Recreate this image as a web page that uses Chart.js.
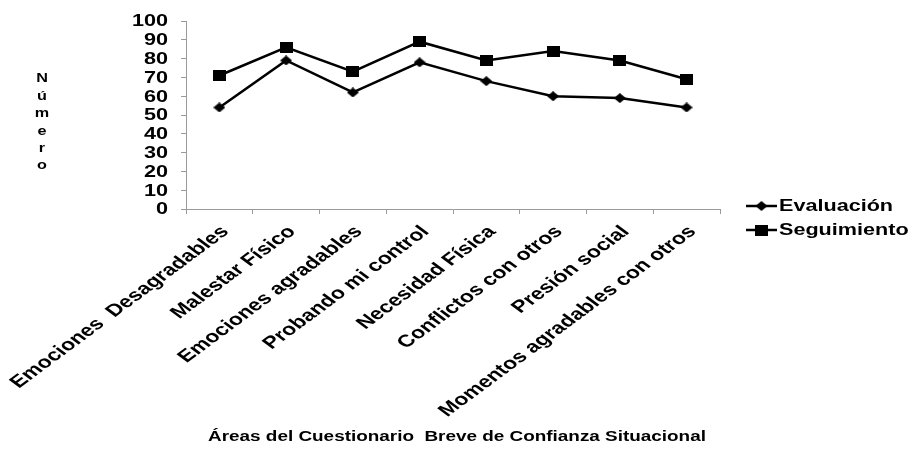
<!DOCTYPE html>
<html>
<head>
<meta charset="utf-8">
<script src="https://cdn.jsdelivr.net/npm/chart.js@4/dist/chart.umd.min.js"></script>
<style>
  html, body { margin: 0; padding: 0; background: #fff; }
  #wrap { width: 916px; height: 454px; }
</style>
</head>
<body>
<div id="wrap"><canvas id="c" width="916" height="454"></canvas></div>
<script>
const categories = [
  'Emociones  Desagradables',
  'Malestar Físico',
  'Emociones agradables',
  'Probando mi control',
  'Necesidad Física',
  'Conflictos con otros',
  'Presión social',
  'Momentos agradables con otros'
];
const evaluacion = [54, 79, 62, 78, 68, 60, 59, 54];
const seguimiento = [71, 86, 73, 89, 79, 84, 79, 69];
const yTicks = [0, 10, 20, 30, 40, 50, 60, 70, 80, 90, 100];
const seriesNames = ['Evaluación', 'Seguimiento'];
const yTitle = 'Número';
const xTitle = 'Áreas del Cuestionario  Breve de Confianza Situacional';

const FONT = '"Liberation Sans", Arial, sans-serif';
const WIDE = 1.35; // horizontal widening of all lettering

// Slightly wide marker shapes used as point styles
function markerCanvas(kind) {
  const c = document.createElement('canvas');
  const w = kind === 'rect' ? 13 : 12;
  const h = kind === 'rect' ? 11 : 10;
  c.width = w; c.height = h;
  const g = c.getContext('2d');
  g.fillStyle = '#000';
  if (kind === 'rect') {
    g.fillRect(0, 0, w, h);
  } else {
    g.beginPath();
    g.moveTo(w / 2, 0);
    g.lineTo(w, h / 2);
    g.lineTo(w / 2, h);
    g.lineTo(0, h / 2);
    g.closePath();
    g.fill();
  }
  return c;
}
const diamond = markerCanvas('diamond');
const square = markerCanvas('rect');

function wideText(ctx, text, x, y, align, rot) {
  ctx.save();
  ctx.translate(x, y);
  ctx.scale(WIDE, 1);
  if (rot) ctx.rotate(rot);
  ctx.textAlign = align;
  ctx.fillText(text, 0, 0);
  ctx.restore();
}

// Tick labels, titles and legend lettering
const lettering = {
  id: 'lettering',
  afterDraw(chart) {
    const ctx = chart.ctx;
    const xs = chart.scales.x;
    const ys = chart.scales.y;
    ctx.save();
    ctx.fillStyle = '#000';
    ctx.textBaseline = 'middle';

    // y tick labels
    ctx.font = 'bold 16px ' + FONT;
    yTicks.forEach(v => wideText(ctx, String(v), xs.left - 18, ys.getPixelForValue(v) + 1, 'right'));

    // category labels, slanted
    ctx.font = 'bold 17px ' + FONT;
    categories.forEach((lab, i) => {
      wideText(ctx, lab, xs.getPixelForValue(i) + 6, ys.bottom + 20, 'right', -Math.PI / 4);
    });

    // vertical stacked y title
    ctx.font = 'bold 12px ' + FONT;
    Array.from(yTitle).forEach((ch, i) => wideText(ctx, ch, 42, 79 + i * 17.4, 'center'));

    // x title
    ctx.font = 'bold 14px ' + FONT;
    wideText(ctx, xTitle, 457, 437, 'center');

    // legend
    const items = [
      { name: seriesNames[0], img: diamond },
      { name: seriesNames[1], img: square }
    ];
    items.forEach((it, i) => {
      const y = 206 + i * 24;
      ctx.strokeStyle = '#000';
      ctx.lineWidth = 2.5;
      ctx.beginPath();
      ctx.moveTo(746, y);
      ctx.lineTo(777, y);
      ctx.stroke();
      ctx.drawImage(it.img, 761.5 - it.img.width / 2, y - it.img.height / 2);
      ctx.font = 'bold 16px ' + FONT;
      wideText(ctx, it.name, 779, y + 1, 'left');
    });
    ctx.restore();
  }
};

new Chart(document.getElementById('c'), {
  type: 'line',
  data: {
    labels: categories,
    datasets: [
      {
        label: seriesNames[0],
        data: evaluacion,
        borderColor: '#000',
        backgroundColor: '#000',
        borderWidth: 2.5,
        pointStyle: diamond,
        tension: 0
      },
      {
        label: seriesNames[1],
        data: seguimiento,
        borderColor: '#000',
        backgroundColor: '#000',
        borderWidth: 2.5,
        pointStyle: square,
        tension: 0
      }
    ]
  },
  options: {
    responsive: false,
    animation: false,
    events: [],
    clip: false,
    layout: { padding: { left: 86, right: 196, top: 21, bottom: 0 } },
    plugins: {
      legend: { display: false },
      tooltip: { enabled: false }
    },
    scales: {
      x: {
        type: 'category',
        offset: true,
        afterFit(scale) { scale.height = 245; },
        grid: {
          offset: true,
          drawOnChartArea: false,
          drawTicks: true,
          tickLength: 5,
          color: '#9a9a9a'
        },
        border: { color: '#9a9a9a', width: 1 },
        ticks: { display: false, autoSkip: false }
      },
      y: {
        min: 0,
        max: 100,
        afterFit(scale) { scale.width = 100; },
        afterBuildTicks(scale) { scale.ticks = yTicks.map(v => ({ value: v })); },
        grid: {
          drawOnChartArea: false,
          drawTicks: true,
          tickLength: 5,
          color: '#9a9a9a'
        },
        border: { color: '#9a9a9a', width: 1 },
        ticks: { display: false, autoSkip: false }
      }
    }
  },
  plugins: [lettering]
});
</script>
</body>
</html>
